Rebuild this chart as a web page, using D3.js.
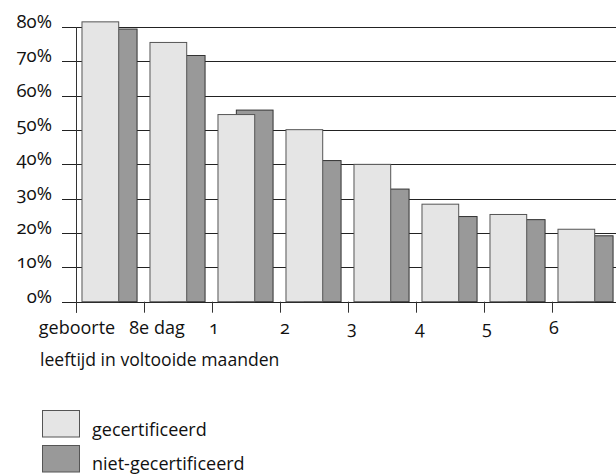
<!DOCTYPE html>
<html>
<head>
<meta charset="utf-8">
<script src="https://cdn.jsdelivr.net/npm/d3@7"></script>
<style>
  html, body { margin: 0; padding: 0; background: #fff; }
  svg { display: block; }
  text { font-family: "Open Sans", "Noto Sans", sans-serif; font-feature-settings: "onum" 1; fill: #111; }
</style>
</head>
<body>
<svg id="chart" width="616" height="476"></svg>
<script>
const categories = ["geboorte", "8e dag", "1", "2", "3", "4", "5", "6"];
const gecertificeerd = [81.5, 75.5, 54.5, 50.1, 40.0, 28.4, 25.4, 21.1];
const nietGecertificeerd = [79.4, 71.7, 55.8, 41.1, 32.8, 24.8, 23.9, 19.2];
const yTicks = [0, 10, 20, 30, 40, 50, 60, 70, 80];
const seriesNames = ["gecertificeerd", "niet-gecertificeerd"];
const xTitle = "leeftijd in voltooide maanden";

const svg = d3.select("#chart");
const width = 616, height = 476;

const y = d3.scaleLinear().domain([0, 80]).range([301.7, 27]);
const x = d3.scaleBand().domain(categories).range([76, 76 + 68 * categories.length]).padding(0);
const bw = x.bandwidth();
const barW = bw * 0.54;
const pad = bw * 0.088;
const offset = barW / 2;

const colors = { light: "#e5e5e5", dark: "#999999", stroke: "#333" };

// gridlines + y ticks
const g = svg.append("g");
g.selectAll("line.grid").data(yTicks).join("line")
  .attr("x1", 62).attr("x2", width)
  .attr("y1", d => Math.round(y(d)) + 0.5).attr("y2", d => Math.round(y(d)) + 0.5)
  .attr("stroke", "#222").attr("stroke-width", 1.1);

g.selectAll("text.ylab").data(yTicks).join("text")
  .attr("x", 52).attr("y", d => y(d) + 1)
  .attr("text-anchor", "end")
  .attr("font-size", 18.5)
  .text(d => d + "%");

// y axis line
svg.append("line").attr("x1", 76.5).attr("x2", 76.5)
  .attr("y1", y(80)).attr("y2", y(0) + 11).attr("stroke", "#333").attr("stroke-width", 1);

// x ticks at band boundaries
svg.selectAll("line.xt").data(categories).join("line")
  .attr("x1", d => Math.round(x(d)) + 0.5).attr("x2", d => Math.round(x(d)) + 0.5)
  .attr("y1", y(0)).attr("y2", y(0) + 11)
  .attr("stroke", "#333");

// bars: dark first (behind), then light
const bars = svg.append("g");
categories.forEach((c, i) => {
  const x0 = x(c) + pad;
  bars.append("rect")
    .attr("x", x0 + offset).attr("width", barW)
    .attr("y", y(nietGecertificeerd[i])).attr("height", y(0) - y(nietGecertificeerd[i]))
    .attr("fill", colors.dark).attr("stroke", colors.stroke).attr("stroke-width", 1);
  bars.append("rect")
    .attr("x", x0).attr("width", barW)
    .attr("y", y(gecertificeerd[i])).attr("height", y(0) - y(gecertificeerd[i]))
    .attr("fill", colors.light).attr("stroke", "#555").attr("stroke-width", 1);
});

// x labels
const dxs = [1, 13, 2, 5, 4, 4, 3, 2];
svg.selectAll("text.xl").data(categories).join("text")
  .attr("x", (d, i) => x(d) + dxs[i]).attr("y", 334)
  .attr("text-anchor", "middle").attr("font-size", 18)
  .text(d => d);

svg.append("text").attr("x", 40).attr("y", 366).attr("font-size", 17.6).text(xTitle);

// legend
const legendColors = [colors.light, colors.dark];
seriesNames.forEach((n, i) => {
  svg.append("rect").attr("x", 42.5).attr("y", 410.5 + i * 35).attr("width", 37).attr("height", 26.5)
    .attr("fill", legendColors[i]).attr("stroke", "#555").attr("stroke-width", 1);
  svg.append("text").attr("x", 92).attr("y", 436 + i * 34).attr("font-size", 18).text(n);
});
</script>
</body>
</html>
